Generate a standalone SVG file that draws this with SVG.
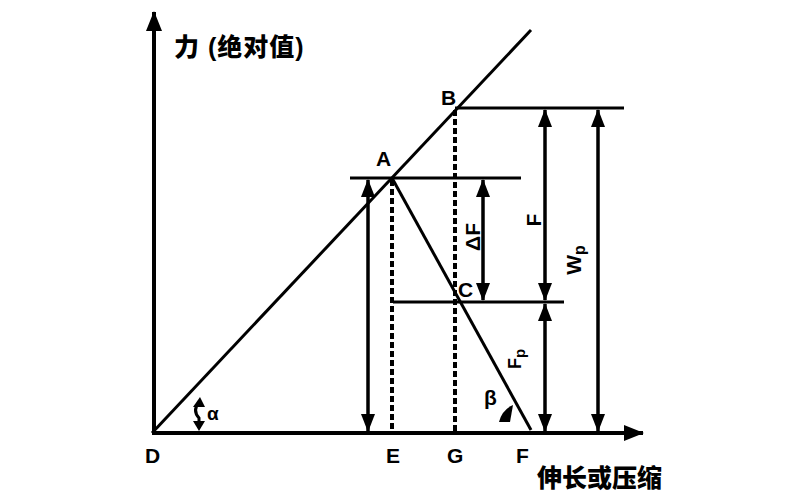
<svg xmlns="http://www.w3.org/2000/svg" width="811" height="500" viewBox="0 0 811 500">
<style>
.ln{stroke:#000;fill:none;stroke-width:3}
.ax{stroke:#000;fill:none;stroke-width:4}
.ds{stroke:#000;fill:none;stroke-width:4;stroke-dasharray:6 3}
.dim{stroke:#000;fill:none;stroke-width:3.5;marker-start:url(#ah);marker-end:url(#ah)}
.lb{font-family:"Liberation Sans",Arial,sans-serif;font-weight:bold;font-size:21px;fill:#000}
.cn{font-family:"Liberation Sans","Noto Sans CJK SC",sans-serif;font-weight:900;font-size:25px;fill:#000}
</style>
<defs>
<marker id="ah" markerUnits="userSpaceOnUse" markerWidth="18" markerHeight="14" refX="17" refY="7" orient="auto-start-reverse" viewBox="0 0 18 14">
<path d="M0,0 L18,7 L0,14 z" fill="#000"/>
</marker>
<marker id="axh" markerUnits="userSpaceOnUse" markerWidth="20" markerHeight="16" refX="19" refY="8" orient="auto" viewBox="0 0 20 16">
<path d="M0,0 L20,8 L0,16 z" fill="#000"/>
</marker>
</defs>
<rect width="811" height="500" fill="#fff"/>
<g id="axes">
<line class="ax" x1="154" y1="434" x2="154" y2="12" marker-end="url(#axh)"/>
<line class="ax" x1="152" y1="433" x2="643" y2="433" marker-end="url(#axh)"/>
</g>
<g id="connectors">
<line class="ln" x1="152" y1="433" x2="531" y2="30"/>
<line class="ln" x1="392" y1="178" x2="531" y2="430"/>
<line class="ln" x1="350" y1="178" x2="521" y2="178"/>
<line class="ln" x1="455" y1="108" x2="624" y2="108"/>
<line class="ln" x1="393" y1="302" x2="564" y2="302"/>
<line class="ds" x1="392" y1="180" x2="392" y2="431"/>
<line class="ds" x1="455" y1="110" x2="455" y2="431"/>
<line class="dim" x1="368" y1="180" x2="368" y2="431"/>
<line class="dim" x1="483" y1="180" x2="483" y2="300"/>
<line class="dim" x1="545" y1="110" x2="545" y2="300"/>
<line class="dim" x1="545" y1="304" x2="545" y2="431"/>
<line class="dim" x1="598" y1="110" x2="598" y2="431"/>
</g>
<g id="angle-alpha">
<path d="M199,403 Q192,410 199,418 L199,428" class="ln"/>
<path d="M193,407 L200,397 L205,407 z" fill="#000"/>
<path d="M193,421 L199,431 L205,421 z" fill="#000"/>
<text class="lb" x="207" y="420" style="font-size:19px">α</text>
</g>
<g id="angle-beta">
<path d="M499,422 Q502,410 513,405 L510,422 z" fill="#000"/>
<text class="lb" x="484" y="405">β</text>
</g>
<g id="labels">
<text class="cn" x="174" y="56" letter-spacing="1">力 (绝对值)</text>
<text class="cn" x="537" y="487">伸长或压缩</text>
<text class="lb" x="376" y="166">A</text>
<text class="lb" x="441" y="105">B</text>
<text class="lb" x="458" y="297">C</text>
<text class="lb" x="145" y="463">D</text>
<text class="lb" x="386" y="463">E</text>
<text class="lb" x="447" y="463">G</text>
<text class="lb" x="516" y="463">F</text>
<text class="lb" transform="translate(480,237) rotate(-90)" text-anchor="middle">ΔF</text>
<text class="lb" transform="translate(541,220) rotate(-90)" text-anchor="middle">F</text>
<text class="lb" transform="translate(581,260) rotate(-90)" text-anchor="middle">W<tspan dy="4" style="font-size:16px">p</tspan></text>
<text class="lb" transform="translate(521,359) rotate(-90)" text-anchor="middle" style="font-size:18px">F<tspan dy="4" style="font-size:15px">p</tspan></text>
</g>
</svg>
